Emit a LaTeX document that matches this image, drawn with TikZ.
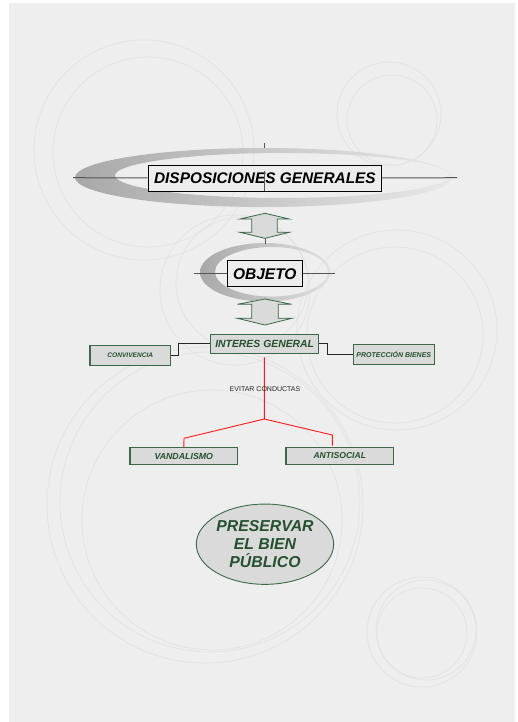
\documentclass[tikz,border=0pt]{standalone}
\usepackage{fontspec}
\setmainfont{Liberation Sans}
\usetikzlibrary{shapes.geometric}
\definecolor{bg}{HTML}{EEEEEE}
\definecolor{ring}{HTML}{E2E2E2}
\definecolor{dkgreen}{HTML}{24502F}
\definecolor{bordergreen}{HTML}{3A6848}
\definecolor{boxfill}{HTML}{DADADA}
\definecolor{linegray}{HTML}{555555}
\tikzset{
  ringline/.style={draw=ring, line width=0.7pt},
  mainbox/.style={draw=black, fill=black!7, line width=0.8pt, inner sep=0pt,
    font=\fontsize{15.4}{17}\selectfont\bfseries\itshape, text=black},
  greenbox/.style={draw=bordergreen, fill=boxfill, line width=1.1pt, inner sep=0pt,
    text=dkgreen, font=\bfseries\itshape},
  blockarrow/.style={draw=bordergreen, fill=boxfill, line width=0.8pt},
  thinline/.style={draw=linegray, line width=1pt},
  conn/.style={draw=black!85, line width=0.9pt},
  redline/.style={draw=red!90, line width=0.9pt},
}
\begin{document}
\begin{tikzpicture}[x=1pt,y=-1pt]
\useasboundingbox (0,0) rectangle (517,722);
\fill[white] (0,0) rectangle (517,722);
\fill[bg] (9,3) rectangle (515,722);
% background rings
\begin{scope}[ringline]
\draw (144,150) circle[radius=110pt];
\draw (148,152) circle[radius=95pt];
\draw (389,114) circle[radius=52pt];
\draw (392,120) circle[radius=45pt];
\draw (397,330) circle[radius=100pt];
\draw (395,335) circle[radius=88pt];
\draw (205,505) circle[radius=158pt];
\draw (210,502) circle[radius=150pt];
\draw (212,520) circle[radius=130pt];
\draw (422,632) circle[radius=55pt];
\draw (422,633) circle[radius=45pt];
\draw (426,630) circle[radius=50pt];
\draw (235,290) circle[radius=75pt];
\draw (242,283) circle[radius=66pt];
\end{scope}
% crescents
\shade[even odd rule, left color=black!34, right color=black!9]
  (263.5,177.5) ellipse[x radius=188.5pt, y radius=29.5pt]
  (282.5,175.5) ellipse[x radius=167.5pt, y radius=22.5pt];
\shade[even odd rule, left color=black!34, right color=black!12]
  (265,272.3) ellipse[x radius=65pt, y radius=29.3pt]
  (271.5,271.8) ellipse[x radius=56.5pt, y radius=24.8pt];
% coordinates
\coordinate (dgL) at (73,177.7);
\coordinate (dgR) at (457,177.7);
\coordinate (tickT) at (264.7,142.7);
\coordinate (tickB) at (264.7,148);
\coordinate (objL) at (194.3,273.7);
\coordinate (objR) at (335,273.7);
% nodes
\node[mainbox, minimum width=233.7pt, minimum height=26pt] (dg) at (264.9,178) {DISPOSICIONES GENERALES};
\node[mainbox, minimum width=75pt, minimum height=26pt, font=\fontsize{15.5}{17}\selectfont\bfseries\itshape] (obj) at (264.8,273.7) {OBJETO};
\node[greenbox, minimum width=108pt, minimum height=19.3pt, font=\fontsize{10.4}{12}\selectfont\bfseries\itshape] (ig) at (264.7,343.7) {INTERES GENERAL};
\node[greenbox, minimum width=80.7pt, minimum height=20pt, font=\fontsize{6.6}{8}\selectfont\bfseries\itshape] (conv) at (130.3,355.3) {CONVIVENCIA};
\node[greenbox, minimum width=81pt, minimum height=19.7pt, font=\fontsize{7}{8}\selectfont\bfseries\itshape] (prot) at (393.8,354.2) {PROTECCIÓN BIENES};
\node[greenbox, minimum width=107.7pt, minimum height=16.7pt, font=\fontsize{8.8}{10}\selectfont\bfseries\itshape] (vand) at (183.8,456) {VANDALISMO};
\node[greenbox, minimum width=107.7pt, minimum height=16.7pt, font=\fontsize{8.6}{10}\selectfont\bfseries\itshape] (anti) at (339.8,456) {ANTISOCIAL};
\node[ellipse, draw=bordergreen, fill=boxfill, line width=0.9pt, minimum width=121.7pt, minimum height=80.3pt, inner sep=0pt,
  text=dkgreen, align=center, font=\fontsize{15.8}{18}\selectfont\bfseries\itshape] (pres) at (265,544.2) {PRESERVAR\\EL BIEN\\PÚBLICO};
% lines around titles
\draw[thinline] (dgL) -- (dg.west);
\draw[thinline] (dg.east) -- (dgR);
\draw[thinline] (tickT) -- (tickB);
\draw[thinline] (objL) -- (obj.west);
\draw[thinline] (obj.east) -- (objR);
\draw[thinline] (dg.south) -- ++(0,20.7pt);
% block arrow 1
\draw[blockarrow] (265,213.3) -- (289.3,219) -- (277.3,219) -- (277.3,232.3) -- (289.3,232.3)
  -- (265,238.3) -- (240,232.3) -- (251.7,232.3) -- (251.7,219) -- (240,219) -- cycle;
\draw[thinline] (265,238.3) -- (265,244);
% block arrow 2
\draw[blockarrow] (265,299) -- (291.7,304.3) -- (278.3,304.3) -- (278.3,318.3) -- (291.7,318.3)
  -- (265,325) -- (237.3,318.3) -- (251.7,318.3) -- (251.7,304.3) -- (237.3,304.3) -- cycle;
% side connectors
\draw[conn] (ig.west) -- ++(-31.4pt,0) |- (conv.east);
\draw[conn] (ig.east) -- ++(8.6pt,0) |- (prot.west);
% red tree
\coordinate (rTop) at (264.3,357.3);
\coordinate (rJ) at (264.3,419);
\coordinate (rL) at (184,438.3);
\coordinate (rR) at (332.3,435);
\coordinate (rRb) at (332.3,445.7);
\draw[redline] (rTop) -- (rJ) -- (rL) -- (vand.north);
\draw[redline] (rJ) -- (rR) -- (rRb);
\node[font=\fontsize{7}{8}\selectfont, text=black!85, inner sep=0pt] (evit) at (265,388.7) {EVITAR CONDUCTAS};
\end{tikzpicture}
\end{document}
